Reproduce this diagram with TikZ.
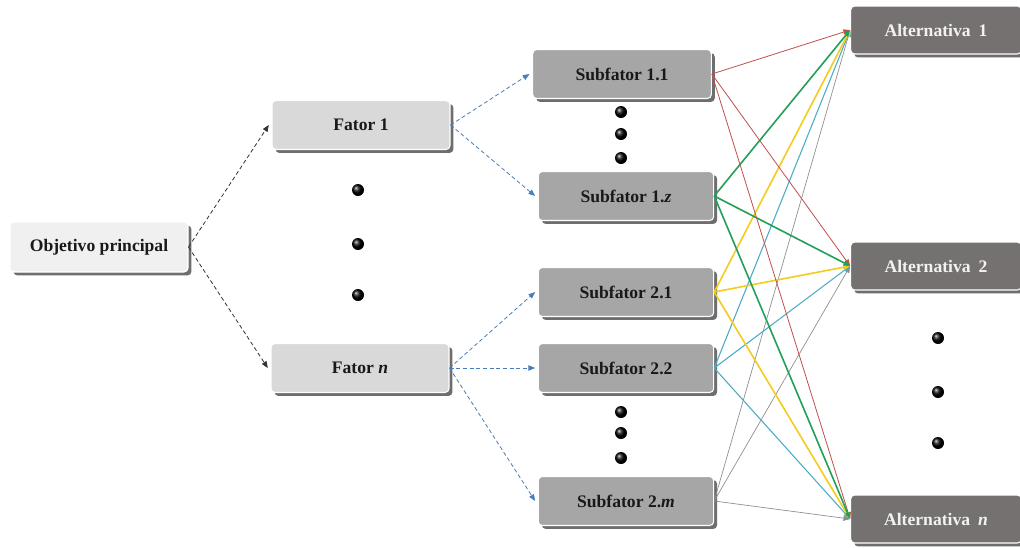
\documentclass[tikz,border=0pt]{standalone}
\usepackage{fontspec}
\setmainfont{Liberation Serif}
\usetikzlibrary{arrows.meta,shadows}
\definecolor{objfill}{HTML}{F0F0F0}
\definecolor{fatfill}{HTML}{D9D9D9}
\definecolor{subfill}{HTML}{A6A6A6}
\definecolor{altfill}{HTML}{767171}
\definecolor{shadowgray}{HTML}{6E6E6E}
\definecolor{dashblue}{HTML}{4A7EBB}
\definecolor{lred}{HTML}{C0504D}
\definecolor{lgreen}{HTML}{22A05A}
\definecolor{lyellow}{HTML}{F5CC1E}
\definecolor{lcyan}{HTML}{4BACC6}
\definecolor{lgray}{HTML}{8C8C8C}
\tikzset{
  boxbase/.style={rectangle, rounded corners=3pt, draw=white, line width=0.8pt,
    font=\fontsize{13.2}{15}\selectfont\bfseries, text=black!90,
    drop shadow={shadow xshift=2.6pt, shadow yshift=-2.6pt, fill=shadowgray, opacity=1}},
  objbox/.style={boxbase, fill=objfill, minimum width=133.5pt, minimum height=37.5pt},
  fatbox/.style={boxbase, fill=fatfill, minimum width=133.5pt, minimum height=36.75pt},
  subbox/.style={boxbase, fill=subfill, minimum width=131.5pt, minimum height=36.75pt},
  altbox/.style={boxbase, fill=altfill, text=white!95!black, minimum width=128pt, minimum height=36pt},
  blackdash/.style={densely dashed, black!80, line width=0.6pt, -{Triangle[length=5pt,width=4pt]}},
  bluedash/.style={densely dashed, dashblue, line width=0.6pt, -{Triangle[length=5pt,width=4pt]}},
  redline/.style={lred, line width=0.6pt, -{Triangle[length=5pt,width=4pt]}},
  greenline/.style={lgreen, line width=1.2pt, -{Triangle[length=5pt,width=4pt]}},
  yellowline/.style={lyellow, line width=1.2pt, -{Triangle[length=5pt,width=4pt]}},
  cyanline/.style={lcyan, line width=0.8pt, -{Triangle[length=5pt,width=4pt]}},
  grayline/.style={lgray, line width=0.5pt, -{Triangle[length=5pt,width=4pt]}},
}
\newcommand{\mydot}[1]{\shade[ball color=black] #1 circle (4.5pt);}
\begin{document}
\begin{tikzpicture}[x=0.75pt,y=-0.75pt]
\useasboundingbox (0,0) rectangle (1020,547);
\fill[white] (0,0) rectangle (1020,547);

\node[objbox] (obj) at (99,247) {Objetivo principal};
\node[fatbox] (f1) at (361,125) {Fator 1};
\node[fatbox] (fn) at (360,368) {Fator \textit{n}};
\node[subbox, minimum width=134pt] (s11) at (622,74) {Subfator 1.1};
\node[subbox] (s1z) at (626,196) {Subfator 1.\textit{z}};
\node[subbox] (s21) at (626,292) {Subfator 2.1};
\node[subbox] (s22) at (626,368) {Subfator 2.2};
\node[subbox] (s2m) at (626,501) {Subfator 2.\textit{m}};
\node[altbox] (a1) at (936,30) {Alternativa\hspace{0.45em}1};
\node[altbox] (a2) at (936,266) {Alternativa\hspace{0.45em}2};
\node[altbox] (an) at (936,519) {Alternativa\hspace{0.45em}\textit{n}};

% dots
\mydot{(358,190)} \mydot{(358,244)} \mydot{(358,295)}
\mydot{(621,112)} \mydot{(621,134)} \mydot{(621,158)}
\mydot{(621,412)} \mydot{(621,433)} \mydot{(621,458)}
\mydot{(938,338)} \mydot{(938,392)} \mydot{(938,443)}

% dashed connectors
\draw[blackdash] (obj.east) -- ([xshift=-2pt]f1.west);
\draw[blackdash] (obj.east) -- ([xshift=-2pt]fn.west);
\draw[bluedash] (f1.east) -- ([xshift=-2pt]s11.west);
\draw[bluedash] (f1.east) -- ([xshift=-2pt]s1z.west);
\draw[bluedash] (fn.east) -- ([xshift=-2pt]s21.west);
\draw[bluedash] (fn.east) -- ([xshift=-2pt]s22.west);
\draw[bluedash] (fn.east) -- ([xshift=-2pt]s2m.west);

% colored connectors
\foreach \t in {a1,a2,an}{
  \draw[grayline] (s2m.east) -- (\t.west);
  \draw[redline] (s11.east) -- (\t.west);
  \draw[cyanline] (s22.east) -- (\t.west);
  \draw[yellowline] (s21.east) -- (\t.west);
  \draw[greenline] (s1z.east) -- (\t.west);
}
\end{tikzpicture}
\end{document}
